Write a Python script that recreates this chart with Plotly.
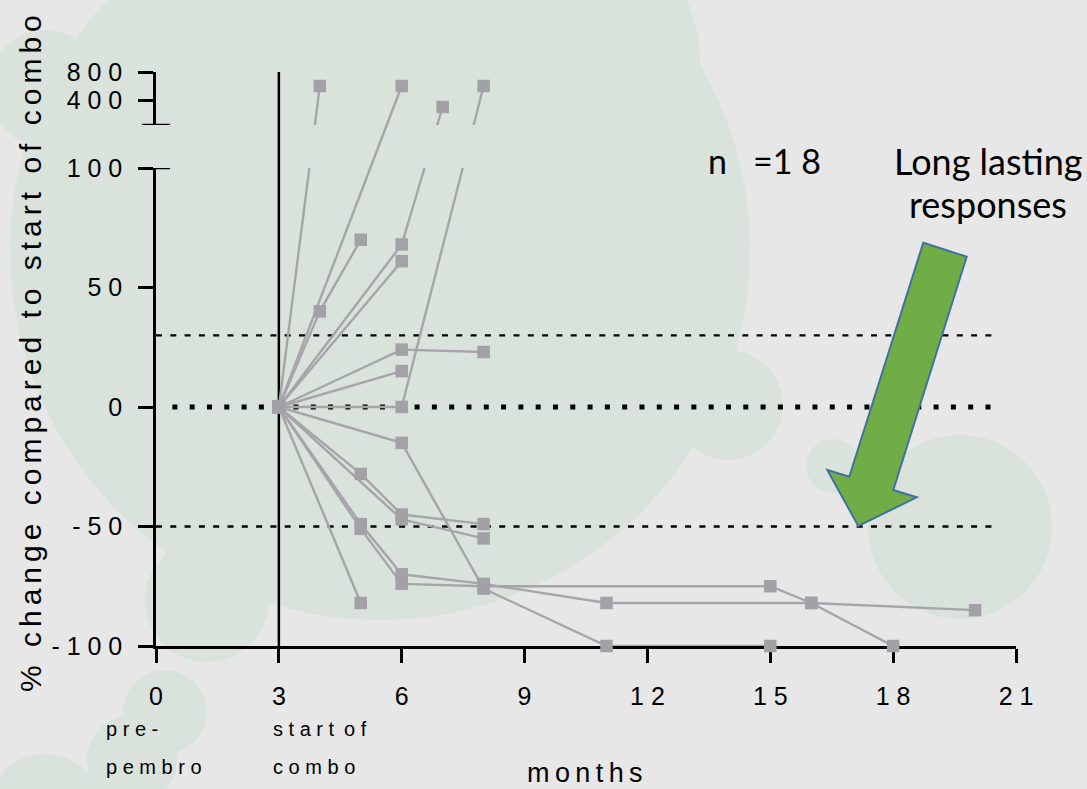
import plotly.graph_objects as go

# ---- data -------------------------------------------------------------
X_TICKS = [0, 3, 6, 9, 12, 15, 18, 21]
LOWER_TICKS = [-100, -50, 0, 50, 100]
UPPER_TICKS = [400, 800]
RESPONSE_LINES = [30, -50]
ZERO_LINE = 0
N_PATIENTS = 18

PATIENT_MONTHS = [
    [3, 4],
    [3, 6],
    [3, 4, 5],
    [3, 6, 7],
    [3, 6],
    [3, 6, 8],
    [3, 6],
    [3, 6, 8],
    [3, 6, 8, 11, 15],
    [3, 5, 6, 8],
    [3, 6, 8],
    [3, 5, 6, 8, 11, 16, 20],
    [3, 5, 6, 8, 15, 16, 18],
    [3, 5],
]
PATIENT_CHANGE = [
    [0, 600],
    [0, 600],
    [0, 40, 70],
    [0, 68, 300],
    [0, 61],
    [0, 24, 23],
    [0, 15],
    [0, 0, 600],
    [0, -15, -76, -100, -100],
    [0, -28, -45, -49],
    [0, -47, -55],
    [0, -49, -70, -74, -82, -82, -85],
    [0, -51, -74, -75, -75, -82, -100],
    [0, -82],
]
# line that the original draws straight through the axis break
UNBROKEN = [1]

# ---- layout geometry (pixels) -----------------------------------------
W, H = 1087, 789
L_PX, R_PX, T_PX, B_PX = 156, 1016, 72, 646
Y100_PX, BREAK_PX, Y400_PX = 168, 125, 100
plot_w = R_PX - L_PX
plot_h = B_PX - T_PX
unit_px = (B_PX - Y100_PX) / 200.0

t_top = 100 + (Y100_PX - T_PX) / unit_px
t_break = 100 + (Y100_PX - BREAK_PX) / unit_px
t_400 = 100 + (Y100_PX - Y400_PX) / unit_px


def to_axis(v):
    # broken y axis: upper segment squeezed above 100
    if v <= 100:
        return v
    return t_400 + (v - 400) * (t_top - t_400) / 400.0


def xp(px):
    return (px - L_PX) / plot_w


def yp(py):
    return (B_PX - py) / plot_h


def spread(s, sep="\u2009"):
    return sep.join(s)


GREY_LINE = "#a6a5a9"
GREY_MARK = "#a2a1a6"
FONT = "Liberation Sans, Arial, sans-serif"
CAL = "Lato, Open Sans, sans-serif"

fig = go.Figure()

# lines
for i, (mx, vy) in enumerate(zip(PATIENT_MONTHS, PATIENT_CHANGE)):
    ty = [to_axis(v) for v in vy]
    if i in UNBROKEN:
        fig.add_trace(go.Scatter(x=mx, y=ty, yaxis="y3", mode="lines",
                                 line=dict(color=GREY_LINE, width=2.4), showlegend=False, hoverinfo="skip"))
        continue
    fig.add_trace(go.Scatter(x=mx, y=ty, yaxis="y", mode="lines",
                             line=dict(color=GREY_LINE, width=2.4), showlegend=False, hoverinfo="skip"))
    if max(vy) > 100:
        fig.add_trace(go.Scatter(x=mx, y=ty, yaxis="y2", mode="lines",
                                 line=dict(color=GREY_LINE, width=2.4), showlegend=False, hoverinfo="skip"))

# markers on top
all_x = [m for mx in PATIENT_MONTHS for m in mx]
all_y = [to_axis(v) for vy in PATIENT_CHANGE for v in vy]
fig.add_trace(go.Scatter(x=all_x, y=all_y, yaxis="y3", mode="markers", cliponaxis=False,
                         marker=dict(symbol="square", size=12.5, color=GREY_MARK),
                         showlegend=False, hoverinfo="skip"))

shapes = []
BLOB = "#d9e3dc"
blobs = [
    (380, 250, 370), (560, 60, 140), (45, 88, 58), (728, 405, 55),
    (207, 600, 62), (165, 712, 42), (132, 760, 45), (45, 812, 58),
    (960, 527, 92), (833, 466, 27),
]
for cx, cy, r in blobs:
    shapes.append(dict(type="circle", xref="paper", yref="paper", layer="below",
                       x0=xp(cx - r), x1=xp(cx + r), y0=yp(cy + r), y1=yp(cy - r),
                       fillcolor=BLOB, line=dict(width=0)))

# vertical line at start of combo
shapes.append(dict(type="line", xref="x", yref="paper", x0=3, x1=3, y0=0, y1=1,
                   layer="below", line=dict(color="black", width=2.5)))
# reference lines
for rl in RESPONSE_LINES:
    shapes.append(dict(type="line", xref="x", yref="y", x0=0, x1=20.6, y0=rl, y1=rl,
                       layer="below", line=dict(color="black", width=2.3, dash="6px,8.3px")))
shapes.append(dict(type="line", xref="x", yref="y", x0=0.4, x1=20.6, y0=ZERO_LINE, y1=ZERO_LINE,
                   layer="below", line=dict(color="black", width=5, dash="5px,12.3px")))
# break caps
shapes.append(dict(type="line", xref="paper", yref="y", x0=xp(142), x1=xp(170), y0=100, y1=100,
                   line=dict(color="black", width=2.5)))
shapes.append(dict(type="line", xref="paper", yref="y2", x0=xp(142), x1=xp(170), y0=t_break, y1=t_break,
                   line=dict(color="black", width=2.5)))
# arrow
arrow = [(923.3, 242.7), (966.7, 256.7), (893.3, 490), (916.7, 497.3),
         (858.3, 526), (827.3, 470), (849.3, 476.7)]
path = "M " + " L ".join(f"{xp(x):.5f},{yp(y):.5f}" for x, y in arrow) + " Z"
shapes.append(dict(type="path", xref="paper", yref="paper", path=path,
                   fillcolor="#70ad47", line=dict(color="#41719c", width=2)))

sm = dict(family=FONT, size=20, color="black")
annotations = [
    dict(text=spread("% change compared to start of combo", "\u2006"), x=xp(30), y=yp(354), textangle=-90,
         font=dict(family=FONT, size=30, color="black")),
    dict(text=spread("months", "\u2009"), x=xp(585), y=yp(773), font=dict(family=FONT, size=27, color="black")),
    dict(text=spread("pre-", " "), x=xp(104), y=yp(729), xanchor="left", font=sm),
    dict(text=spread("pembro", " "), x=xp(104), y=yp(767), xanchor="left", font=sm),
    dict(text=spread("start", " ") + "\u2002" + spread("of", " "), x=xp(271), y=yp(729), xanchor="left", font=sm),
    dict(text=spread("combo", " "), x=xp(271), y=yp(767), xanchor="left", font=sm),
    dict(text="n\u00a0\u00a0\u00a0=" + spread(str(N_PATIENTS), " "), x=xp(764), y=yp(161),
         font=dict(family=CAL, size=34, color="black")),
    dict(text="Long lasting", x=xp(988), y=yp(161), font=dict(family=CAL, size=36, color="black")),
    dict(text="responses", x=xp(988), y=yp(204), font=dict(family=CAL, size=36, color="black")),
]
for a in annotations:
    a.update(xref="paper", yref="paper", showarrow=False, yanchor="middle", xanchor=a.get("xanchor", "center"))

tick_font = dict(family=FONT, size=25, color="black")
axis_common = dict(showgrid=False, zeroline=False, showline=True, linecolor="black", linewidth=2.5,
                   ticks="outside", tickcolor="black", tickwidth=2.5, tickfont=tick_font,
                   layer="below traces", fixedrange=True)

fig.update_layout(
    width=W, height=H,
    margin=dict(l=L_PX, r=W - R_PX, t=T_PX, b=H - B_PX, pad=0),
    paper_bgcolor="#e7e7e7", plot_bgcolor="rgba(0,0,0,0)",
    showlegend=False,
    xaxis=dict(range=[0, 21], tickvals=X_TICKS, ticktext=[spread(str(v), " ") for v in X_TICKS],
               ticklen=14, ticklabelstandoff=12, anchor="y", domain=[0, 1], **axis_common),
    yaxis=dict(range=[-100, 100], domain=[0, yp(Y100_PX)], tickvals=LOWER_TICKS,
               ticktext=[spread(str(v), " ") for v in LOWER_TICKS], ticklen=15, ticklabelstandoff=11,
               anchor="x", **axis_common),
    yaxis2=dict(range=[t_break, t_top + 0.01], domain=[yp(BREAK_PX), 1],
                tickvals=[to_axis(v) for v in UPPER_TICKS],
                ticktext=[spread(str(v), " ") for v in UPPER_TICKS], ticklen=15, ticklabelstandoff=11,
                anchor="x", **axis_common),
    yaxis3=dict(range=[-100, t_top], domain=[0, 1], visible=False, anchor="x", fixedrange=True),
    shapes=shapes,
    annotations=annotations,
)

fig.write_html("out.html", config={"displayModeBar": False},
               post_script="document.body.style.margin='0';document.body.style.background='#e7e7e7';")
